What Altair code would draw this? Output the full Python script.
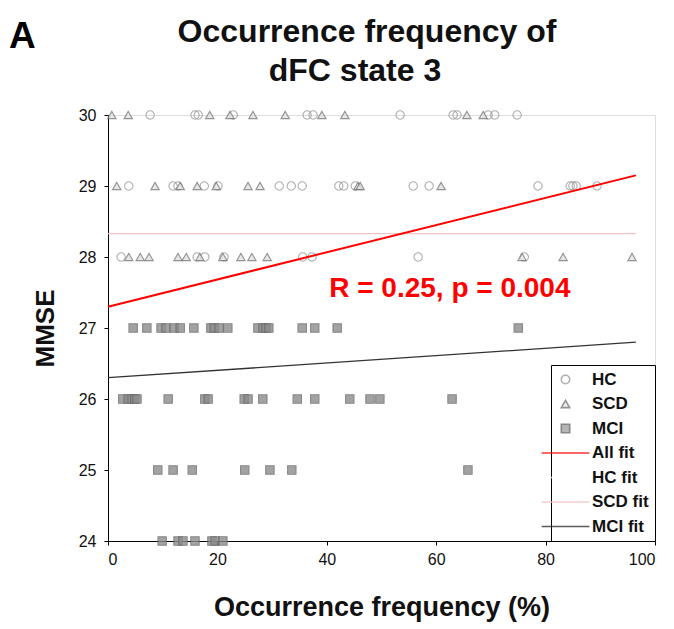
import altair as alt
import pandas as pd

# ---- data ----
hc_x = [7.7, 15.9, 16.5, 22.9, 36.4, 37.5, 53.4, 63.1, 63.8, 69.5, 70.7, 74.8,
        3.8, 11.9, 12.8, 17.6, 20.1, 31.3, 33.5, 35.5, 42.2, 43.1, 45.2, 55.8, 58.7, 78.6, 84.5, 85.0, 85.6, 89.4,
        2.4, 16.3, 17.7, 21.2, 35.6, 37.3, 56.7, 76.1]
hc_y = [30] * 12 + [29] * 18 + [28] * 8

scd_x = [0.7, 3.7, 18.6, 22.3, 26.5, 32.4, 39.1, 43.3, 65.6, 68.6,
         1.6, 8.6, 13.2, 16.3, 19.8, 25.6, 27.8, 45.7, 46.1, 60.9,
         3.8, 5.9, 7.5, 12.8, 14.3, 16.8, 21.0, 24.3, 26.3, 29.1, 75.7, 83.2, 95.8]
scd_y = [30] * 10 + [29] * 10 + [28] * 13

mci_x = [4.6, 7.1, 9.7, 10.6, 12.1, 13.2, 15.7, 18.8, 19.4, 20.3, 21.9, 27.4, 28.3, 28.9, 29.4, 35.5, 37.8, 41.9, 75.0,
         2.7, 3.7, 4.4, 4.9, 5.3, 11.0, 17.7, 18.3, 24.9, 25.6, 28.3, 34.6, 37.8, 44.2, 47.9, 49.7, 62.9,
         9.1, 11.9, 15.4, 25.0, 29.6, 33.6, 65.8,
         9.9, 12.8, 13.7, 15.9, 19.0, 19.6, 21.0]
mci_y = [27] * 19 + [26] * 17 + [25] * 7 + [24] * 7

fit_names = ["All fit", "All fit", "SCD fit", "SCD fit", "MCI fit", "MCI fit"]
fit_x = [0, 96.5, 0, 96.5, 0, 96.5]
fit_y = [27.3, 29.15, 28.33, 28.33, 26.3, 26.8]

groups = ["HC", "SCD", "MCI", "All fit", "HC fit", "SCD fit", "MCI fit"]
line_path = "M-5.7,0H5.7"
shapes = ["circle", "triangle-up", "square", line_path, line_path, line_path, line_path]
strokes = ["#9a9a9a", "#7a7a7a", "#6a6a6a", "#ff0000", "#ffffff", "#f2c4c4", "#333333"]
fills = ["transparent", "#e2e2e2", "#8c8c8c", "transparent", "transparent", "transparent", "transparent"]

annot = "R = 0.25, p = 0.004"
title_lines = ["Occurrence frequency of", "dFC state 3"]
panel_letter = "A"

# ---- tables ----
pts = pd.DataFrame({
    "x": hc_x + scd_x + mci_x,
    "y": hc_y + scd_y + mci_y,
    "group": ["HC"] * len(hc_x) + ["SCD"] * len(scd_x) + ["MCI"] * len(mci_x),
})
fits = pd.DataFrame({"x": fit_x, "y": fit_y, "group": fit_names})

FONT = "Liberation Sans"

xs = alt.Scale(domain=[0, 100], nice=False)
ys = alt.Scale(domain=[24, 30], nice=False)
xax = alt.Axis(values=[0, 20, 40, 60, 80, 100], title="Occurrence frequency (%)", grid=False, format="d",
               labelFontSize=16, titleFontSize=27, titleFontWeight="bold", titleFont=FONT, labelFont=FONT,
               domainColor="black", tickColor="black", labelColor="#111", titleColor="#111",
               tickSize=4, titleY=66, titleBaseline="middle", labelPadding=6)
yax = alt.Axis(values=[24, 25, 26, 27, 28, 29, 30], title="MMSE", grid=False, format="d",
               labelFontSize=16, titleFontSize=26, titleFontWeight="bold", titleFont=FONT, labelFont=FONT,
               domainColor="black", tickColor="black", labelColor="#111", titleColor="#111",
               tickSize=4, titleX=-63, titleY=213, titleBaseline="middle", titleAngle=270, labelPadding=8)

legend = alt.Legend(title=None, orient="bottom-right", offset=0, strokeColor="black", fillColor="white",
                    padding=6, labelFont=FONT, labelFontSize=17, labelFontWeight="bold", labelColor="#111",
                    labelOffset=18, rowPadding=6.5, symbolStrokeWidth=1.6, symbolSize=70,
                    cornerRadius=0)

shape_enc = alt.Shape("group:N", scale=alt.Scale(domain=groups, range=shapes), legend=legend)
stroke_enc = alt.Stroke("group:N", scale=alt.Scale(domain=groups, range=strokes), legend=legend)
fill_enc = alt.Fill("group:N", scale=alt.Scale(domain=groups, range=fills), legend=legend)

points = alt.Chart(pts).mark_point(filled=True, size=70, opacity=0.8, strokeWidth=1.1).encode(
    x=alt.X("x:Q", scale=xs, axis=xax),
    y=alt.Y("y:Q", scale=ys, axis=yax),
    shape=shape_enc, stroke=stroke_enc, fill=fill_enc,
)

other_lines = alt.Chart(fits).transform_filter(alt.datum.group != "All fit").mark_line(strokeWidth=1.3).encode(
    x="x:Q", y="y:Q", stroke=stroke_enc, detail="group:N",
)
all_line = alt.Chart(fits).transform_filter(alt.datum.group == "All fit").mark_line(strokeWidth=2).encode(
    x="x:Q", y="y:Q", stroke=stroke_enc,
)

label = alt.Chart(pd.DataFrame({"x": [62.5], "y": [27.55], "t": [annot]})).mark_text(
    font=FONT, fontSize=28, fontWeight="bold", color="#ff0000", align="center", baseline="middle"
).encode(x="x:Q", y="y:Q", text="t:N")

title1 = alt.Chart(pd.DataFrame({"t": [title_lines[0]]})).mark_text(
    font=FONT, fontSize=32, fontWeight="bold", color="#111", align="center", baseline="alphabetic"
).encode(x=alt.value(259), y=alt.value(-73), text="t:N")
title2 = alt.Chart(pd.DataFrame({"t": [title_lines[1]]})).mark_text(
    font=FONT, fontSize=32, fontWeight="bold", color="#111", align="center", baseline="alphabetic"
).encode(x=alt.value(247), y=alt.value(-34), text="t:N")

panel = alt.Chart(pd.DataFrame({"t": [panel_letter]})).mark_text(
    font=FONT, fontSize=37, fontWeight="bold", color="black", align="left", baseline="alphabetic"
).encode(x=alt.value(-99), y=alt.value(-67), text="t:N")

chart = alt.layer(points, other_lines, all_line, label, title1, title2, panel).properties(
    width=547, height=426,
    autosize=alt.AutoSizeParams(type="none"),
    padding={"left": 108, "top": 115, "right": 19, "bottom": 88},
).configure_view(stroke=None).configure(background="white")

chart.save("out.html", embed_options={"renderer": "svg", "actions": False})
